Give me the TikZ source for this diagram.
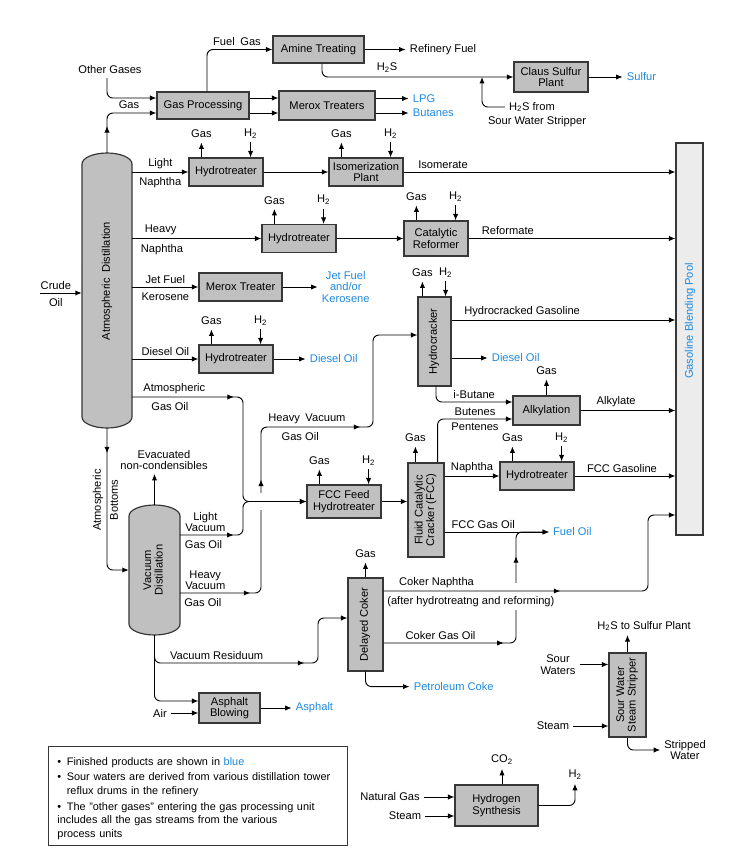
\documentclass[tikz,border=0pt]{standalone}
\usepackage{fontspec}
\setmainfont{Liberation Sans}
\usetikzlibrary{arrows.meta,calc,decorations.markings}

\definecolor{boxgray}{RGB}{192,192,192}
\definecolor{poolgray}{RGB}{236,236,236}
\definecolor{edgegray}{RGB}{55,55,55}
\definecolor{prodblue}{RGB}{30,136,220}

\newcommand{\vtext}[1]{\rotatebox{90}{\begin{tabular}{@{}c@{}}#1\end{tabular}}}
\newcommand{\noteitem}[1]{\par\hangindent=8pt\hangafter=1\noindent\makebox[8pt][l]{\textbullet}#1}

\tikzset{
  unit/.style={draw=edgegray, fill=boxgray, line width=1pt, inner sep=1pt, align=center},
  htbox/.style={minimum width=2.22cm, minimum height=0.84cm},
  shell/.style={draw=edgegray, fill=boxgray, line width=1pt},
  tower/.style={inner sep=0pt},
  flow/.style={line width=0.8pt, rounded corners=5pt, -{Latex[length=5.5pt,width=4.5pt]}},
  arrowat/.style={postaction={decorate, decoration={markings,
      mark=at position #1 with {\arrow{Latex[length=5.5pt,width=4.5pt]}}}}},
  product/.style={text=prodblue},
  toplbl/.style={above=1pt, inner sep=1.5pt},
  botlbl/.style={below=3pt, inner sep=1.5pt},
  notebox/.style={draw=edgegray, line width=0.8pt, minimum width=8.97cm, minimum height=2.97cm,
      text width=8.4cm, align=left, font=\fontsize{9.3}{11.5}\selectfont},
}

\begin{document}
\begin{tikzpicture}[x=0.03cm, y=-0.03cm, font=\fontsize{9.5}{9.8}\selectfont]
    \useasboundingbox (0,0) rectangle (750,862);

    % columns
    \filldraw[shell] (82,164) arc[start angle=180, end angle=0, x radius=0.75cm, y radius=0.33cm]
        -- (132,417) arc[start angle=0, end angle=-180, x radius=0.75cm, y radius=0.33cm] -- cycle;
    \node[tower, minimum width=1.5cm, minimum height=8.25cm] (atm) at (107,290.5)
        {\rotatebox{90}{\hspace*{0.57cm}Atmospheric\enspace Distillation}};
    \filldraw[shell] (129,516) arc[start angle=180, end angle=0, x radius=0.765cm, y radius=0.33cm]
        -- (180,624) arc[start angle=0, end angle=-180, x radius=0.765cm, y radius=0.33cm] -- cycle;
    \node[tower, minimum width=1.53cm, minimum height=3.9cm] (vac) at (154.5,570)
        {\vtext{Vacuum\\Distillation}};

    % process units
    \node[unit, minimum width=2.76cm, minimum height=0.81cm] (gasproc) at (203,105.5) {Gas Processing};
    \node[unit, minimum width=2.73cm, minimum height=0.81cm] (amine) at (318.5,49.5) {Amine Treating};
    \node[unit, minimum width=2.88cm, minimum height=0.87cm] (merox) at (327,105.5) {Merox Treaters};
    \node[unit, minimum width=2.22cm, minimum height=0.9cm] (claus) at (551,77) {Claus Sulfur\\Plant};
    \node[unit, htbox] (ht1) at (226,172) {Hydrotreater};
    \node[unit, htbox] (iso) at (366,172) {Isomerization\\Plant};
    \node[unit, htbox] (ht2) at (299,238.5) {Hydrotreater};
    \node[unit, minimum width=1.92cm, minimum height=1.05cm] (cr) at (436,238.5) {Catalytic\\Reformer};
    \node[unit, minimum width=2.49cm, minimum height=0.84cm] (meroxt) at (240.5,287) {Merox Treater};
    \node[unit, htbox] (ht3) at (236,359) {Hydrotreater};
    \node[unit, minimum width=0.99cm, minimum height=2.67cm] (hc) at (434.5,341.5) {\vtext{Hydrocracker}};
    \node[unit, minimum width=2.01cm, minimum height=0.87cm] (alky) at (546.5,410.5) {Alkylation};
    \node[unit, minimum width=2.22cm, minimum height=0.99cm] (fccht) at (344,501.5) {FCC Feed\\Hydrotreater};
    \node[unit, minimum width=1.08cm, minimum height=2.82cm] (fcc) at (426,510) {\vtext{Fluid Catalytic\\Cracker (FCC)}};
    \node[unit, htbox] (ht4) at (537,476) {Hydrotreater};
    \node[unit, minimum width=1.05cm, minimum height=2.79cm] (coker) at (365.5,624.5) {\vtext{Delayed Coker}};
    \node[unit, minimum width=1.83cm, minimum height=0.9cm] (asph) at (229.5,708) {Asphalt\\Blowing};
    \node[unit, minimum width=1.11cm, minimum height=2.52cm] (sws) at (627.5,695) {\vtext{Sour Water\\Steam Stripper}};
    \node[unit, minimum width=2.49cm, minimum height=1.23cm] (h2syn) at (496.5,805.5) {Hydrogen\\Synthesis};
    \node[unit, fill=poolgray, minimum width=0.81cm, minimum height=11.76cm] (pool) at (689.5,339) {};
    \node[product] (poollbl) at (690,321) {\rotatebox{90}{Gasoline Blending Pool}};

    % gas plant
    \node (othgas) at (110,70) {Other Gases};
    \draw[flow] (othgas.south) ++(-3,0) |- ($(gasproc.west)+(0,-7.5)$);
    \draw[flow, arrowat=0.8cm] (atm.north) |- ($(gasproc.west)+(0,7.5)$);
    \node (gaslbl) at (129,105) {Gas};
    \draw[flow] ($(gasproc.north)+(4,0)$) |- (amine.west);
    \node (fuelgas) at (237,42) {Fuel\enspace Gas};
    \foreach \dy in {-7.5,7.5}
        \draw[flow] ($(gasproc.east)+(0,\dy)$) -- ($(merox.west)+(0,\dy)$);
    \draw[flow] ($(merox.east)+(0,-7)$) -- ++(33,0) node[right, product] (lpg) {LPG};
    \draw[flow] ($(merox.east)+(0,7.5)$) -- ++(33,0) node[right, product] (butanes) {Butanes};
    \draw[flow] (amine.east) -- ++(41,0) node[right] (reffuel) {Refinery Fuel};
    \draw[flow] ($(amine.south)+(3.5,0)$) |- (claus.west);
    \node (h2s) at (387,68) {H\textsubscript{2}S};
    \node (h2sfrom) at (532,107) {H\textsubscript{2}S from};
    \node (h2sfrom2) at (537,122) {Sour Water Stripper};
    \coordinate (h2sjoin) at (482,77);
    \draw[flow] (h2sfrom.west) -| (h2sjoin);
    \draw[flow] (claus.east) -- ++(34,0) node[right, product] (sulfur) {Sulfur};

    % crude and side draws
    \coordinate (crude) at (40,293);
    \draw[flow] (crude) -- node[toplbl, pos=0.38] (crA) {Crude} node[botlbl, pos=0.38] (crB) {Oil} (atm.west |- crude);
    \draw[flow] (atm.east |- ht1.west) -- node[toplbl] (lnA) {Light} node[botlbl] (lnB) {Naphtha} (ht1.west);
    \draw[flow] (ht1.east) -- (iso.west);
    \draw[flow] (iso.east) -- node[toplbl, pos=0.145] (isom) {Isomerate} (pool.west |- iso.east);
    \draw[flow] (atm.east |- ht2.west) -- node[toplbl, pos=0.22] (hnA) {Heavy} node[botlbl, pos=0.23] (hnB) {Naphtha} (ht2.west);
    \draw[flow] (ht2.east) -- (cr.west);
    \draw[flow] (cr.east) -- node[toplbl, pos=0.19] (refm) {Reformate} (pool.west |- cr.east);
    \draw[flow] (atm.east |- meroxt.west) -- node[toplbl] (jfA) {Jet Fuel} node[botlbl] (jfB) {Kerosene} (meroxt.west);
    \draw[flow] (meroxt.east) -- ++(35,0) node[right, product, align=center] (jetfuel) {Jet Fuel\\and/or\\Kerosene};
    \draw[flow] (atm.east |- ht3.west) -- node[toplbl] (dslA) {Diesel Oil} (ht3.west);
    \draw[flow] (ht3.east) -- ++(32,0) node[right, product] (diesel1) {Diesel Oil};

    % gas off / hydrogen in
    \foreach \u in {ht1,iso,ht2,cr,ht3,fccht,ht4} {
        \draw[flow] ($(\u.north west)+(13,0)$) -- ++(0,-15) node[above] (\u-gas) {Gas};
        \draw[flow] ($(\u.north east)+(-13,0)$) ++(0,-15) node[above] (\u-h2) {H\textsubscript{2}} -- ++(0,15);
    }
    \draw[flow] ($(hc.north west)+(5,0)$) -- ++(0,-15) node[above] (hc-gas) {Gas};
    \draw[flow] ($(hc.north east)+(-6,0)$) ++(0,-15) node[above] (hc-h2) {H\textsubscript{2}} -- ++(0,15);
    \draw[flow] ($(fcc.north west)+(8,0)$) -- ++(0,-16) node[above] (fcc-gas) {Gas};
    \draw[flow] (alky.north) -- ++(0,-16) node[above] (alky-gas) {Gas};
    \draw[flow] (coker.north) -- ++(0,-15) node[above] (coker-gas) {Gas};

    % heavy vacuum gas oil to hydrocracker
    \coordinate (hv1) at (261,593);
    \coordinate (hv2) at (261,427);
    \coordinate (hv3) at (373,427);
    \draw[flow, arrowat=2.1cm, arrowat=5.75cm, arrowat=10.23cm] (vac.east |- hv1)
        -- node[toplbl, pos=0.31, align=center] (hvA) {Heavy\\Vacuum} node[botlbl, pos=0.28] (hvB) {Gas Oil} (hv1)
        -- (hv2) -- node[toplbl, pos=0.41] (hvC) {Heavy\enspace Vacuum} node[botlbl, pos=0.35] (hvD) {Gas Oil} (hv3)
        |- ($(hc.west)+(0,-6.5)$);
    \coordinate (merge) at (243,501.5);
    \coordinate (hop1) at (hv1 |- merge);
    \fill[white] ($(hop1)+(-3,-9)$) rectangle ($(hop1)+(3,8)$);

    % gas oils to FCC feed hydrotreater
    \coordinate (ago) at (243,397);
    \coordinate (lvgo) at (243,535);
    \draw[flow, arrowat=3.05cm] (atm.east |- ago)
        -- node[toplbl, pos=0.38] (agoA) {Atmospheric} node[botlbl, pos=0.34] (agoB) {Gas Oil} (ago)
        -- (merge) -- (fccht.west);
    \draw[flow, arrowat=1.6cm] (vac.east |- lvgo)
        -- node[toplbl, pos=0.4, align=center] (lvA) {Light\\Vacuum} node[botlbl, pos=0.37] (lvB) {Gas Oil} (lvgo)
        -- (merge) -- (fccht.west);
    \draw[flow] (fccht.east) -- (fcc.west |- fccht.east);

    % hydrocracker products
    \coordinate (hcg) at ($(hc.east)+(0,-21.5)$);
    \draw[flow] (hcg) -- node[toplbl, pos=0.315] (hcgas) {Hydrocracked Gasoline} (pool.west |- hcg);
    \draw[flow] ($(hc.east)+(0,16.5)$) -- ++(36,0) node[right, product] (diesel2) {Diesel Oil};
    \draw[flow] ($(hc.south)+(1.5,0)$) |- node[pos=0.75, toplbl] (ibut) {i-Butane} ($(alky.west)+(0,-8.5)$);

    % FCC products and alkylation
    \draw[flow] ($(fcc.north east)+(-7,0)$) |- node[pos=0.75, toplbl] (buten) {Butenes}
        node[pos=0.75, below=1pt, inner sep=1.5pt] (penten) {Pentenes} ($(alky.west)+(0,8.5)$);
    \draw[flow] (alky.east) -- node[toplbl, pos=0.375] (alkyl) {Alkylate} (pool.west |- alky.east);
    \draw[flow] (fcc.east |- ht4.west) -- node[toplbl] (naph) {Naphtha} (ht4.west);
    \draw[flow] (ht4.east) -- node[toplbl, pos=0.47] (fccgasl) {FCC Gasoline} (pool.west |- ht4.east);
    \node[product, anchor=west] (fueloil) at (549,532) {Fuel Oil};
    \draw[flow] (fcc.east |- fueloil.west) -- node[toplbl, pos=0.37] (fccgo) {FCC Gas Oil} (fueloil.west);

    % coker products
    \coordinate (cgobend) at (516,643);
    \coordinate (cnbend) at (648,591);
    \draw[flow, arrowat=3.6cm, arrowat=6.5cm] (coker.east |- cgobend)
        -- node[toplbl, pos=0.43] (cgo) {Coker Gas Oil} (cgobend) |- (fueloil.west);
    \coordinate (hop2) at (cgobend |- cnbend);
    \fill[white] ($(hop2)+(-3,-8)$) rectangle ($(hop2)+(3,19)$);
    \coordinate (poolcn) at ($(pool.west)+(0,176)$);
    \draw[flow, arrowat=5.3cm] (coker.east |- cnbend)
        -- node[toplbl, pos=0.2] (cn) {Coker Naphtha}
           node[botlbl, pos=0.33] (cnnote) {(after hydrotreatng and reforming)} (cnbend)
        |- (poolcn);
    \draw[flow] (coker.south) |- ++(44,15) node[right, product] (petcoke) {Petroleum Coke};

    % vacuum column
    \draw[flow, arrowat=0.75cm] (atm.south) |- (vac.west);
    \node[rotate=90] (abA) at (98,500) {Atmospheric};
    \node[rotate=90] (abB) at (114,500) {Bottoms};
    \node[align=center] (evac) at (164,460) {Evacuated\\non-condensibles};
    \draw[flow] (vac.north) -- (vac.north |- evac.south);
    \coordinate (vrbend) at (318,663);
    \draw[flow, arrowat=5.25cm] (vac.south) |- node[pos=0.69, toplbl] (vres) {Vacuum Residuum} (vrbend)
        |- ($(coker.west)+(0,-6.5)$);
    \draw[flow] (vac.south) |- ($(asph.west)+(0,-7)$);
    \node (air) at (160,713) {Air};
    \draw[flow] (air.east) -- (asph.west |- air.east);
    \draw[flow] (asph.east) -- ++(31,0) node[right, product] (asphalt) {Asphalt};

    % sour water stripper
    \node (h2sto) at (644,626) {H\textsubscript{2}S to Sulfur Plant};
    \draw[flow] (sws.north) -- (sws.north |- h2sto.south);
    \node[align=center] (sourw) at (558,664.5) {Sour\\Waters};
    \draw[flow] (sourw.east) -- (sws.west |- sourw.east);
    \node (steam1) at (553,726) {Steam};
    \draw[flow] (steam1.east) -- (sws.west |- steam1.east);
    \node[align=center] (stripw) at (685,750) {Stripped\\Water};
    \draw[flow] (sws.south) |- (stripw.west);

    % hydrogen plant
    \node (co2) at (502,760) {CO\textsubscript{2}};
    \draw[flow] (co2.south |- h2syn.north) -- (co2.south);
    \node (h2out) at (575,775) {H\textsubscript{2}};
    \draw[flow] (h2syn.east) -| (h2out.south);
    \node (natgas) at (390,797) {Natural Gas};
    \draw[flow] (natgas.east) -- (h2syn.west |- natgas.east);
    \node (steam2) at (405,816) {Steam};
    \draw[flow] (steam2.east) -- (h2syn.west |- steam2.east);

    % notes
    \node[notebox] (note) at (197.5,795.5) {%
        \noteitem{Finished products are shown in \textcolor{prodblue}{blue}}\par\vspace{2pt}
        \noteitem{Sour waters are derived from various distillation tower\newline reflux drums in the refinery}\par\vspace{2pt}
        \noteitem{The \symbol{34}other gases\symbol{34} entering the gas processing unit\newline includes all the gas streams from the various\newline process units}};
\end{tikzpicture}
\end{document}
